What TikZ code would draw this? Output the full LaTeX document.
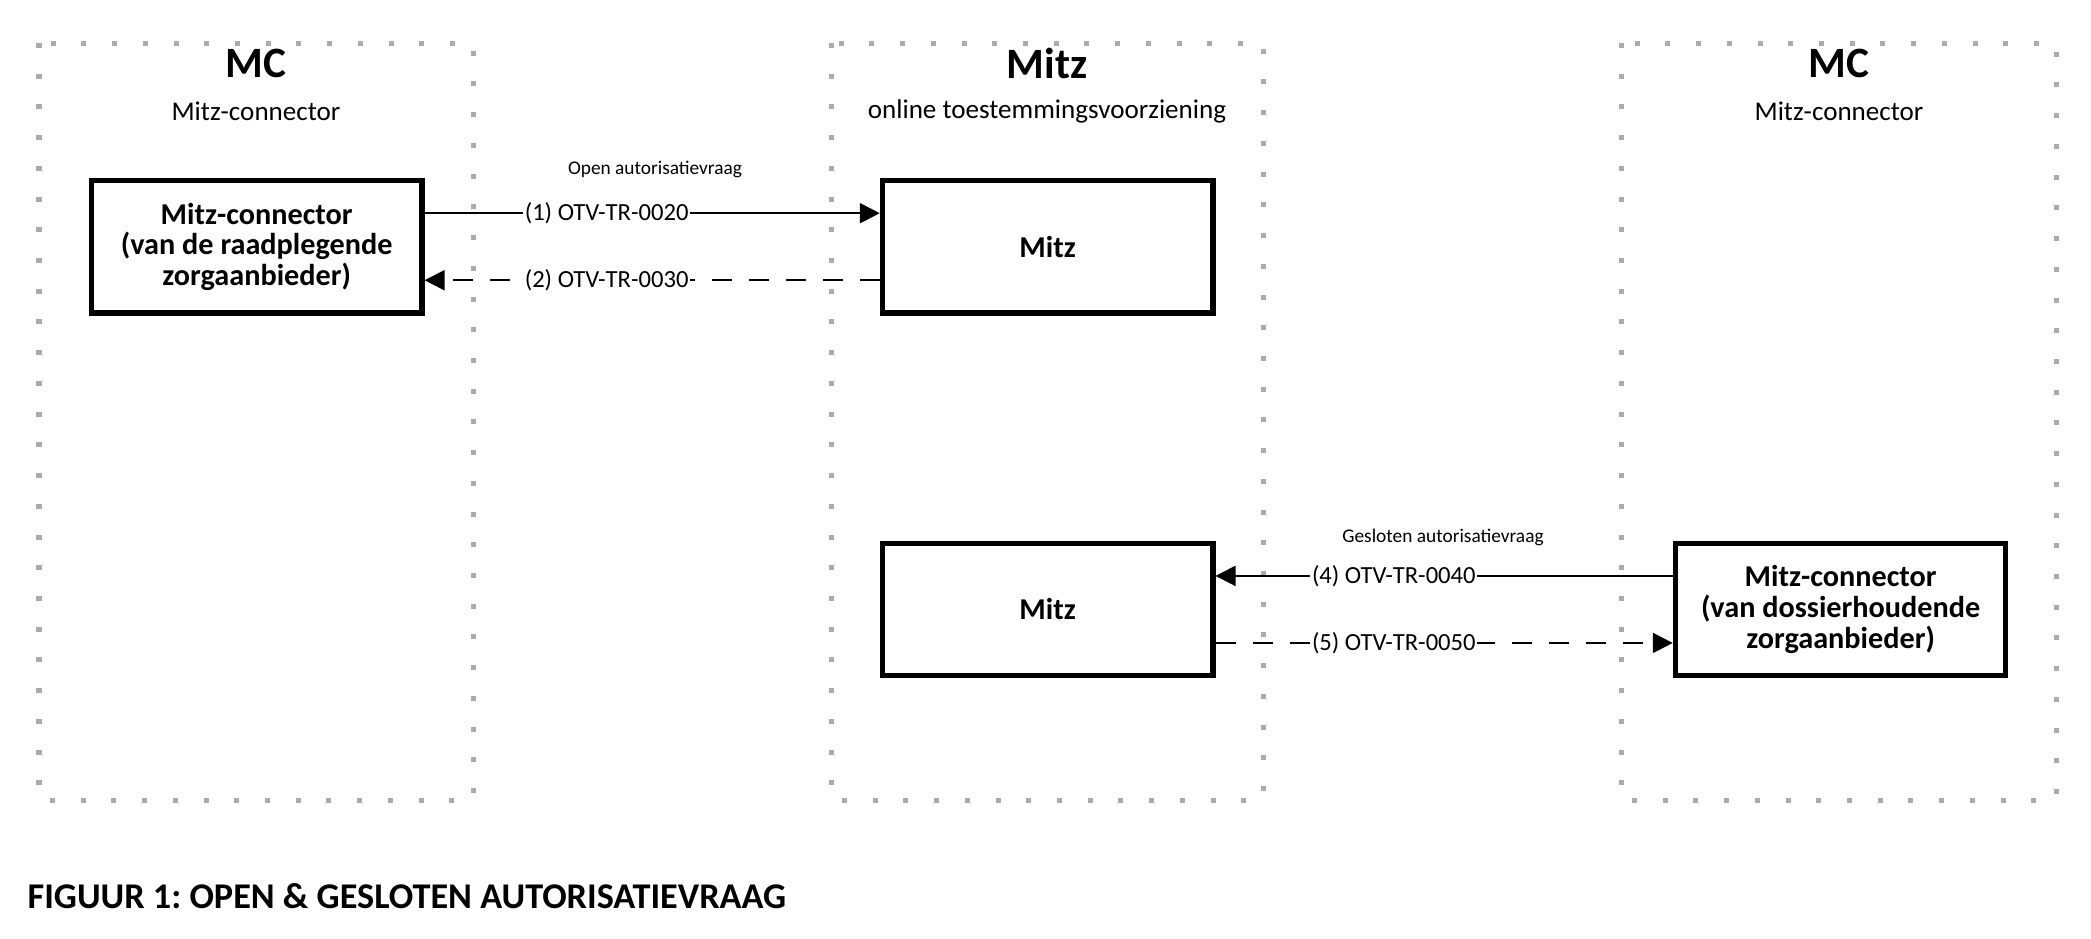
\documentclass[tikz,border=0pt]{standalone}
\usepackage{fontspec}
\setmainfont{Carlito}
\usetikzlibrary{arrows.meta, positioning}

\begin{document}
\begin{tikzpicture}[x=0.01cm, y=-0.01cm, >={Triangle[length=0.2cm, width=0.2cm]}, node distance=1cm,
    frame/.style={draw=black!33, line width=0.05cm, dash pattern=on 0.05cm off 0.257cm},
    comp/.style={draw, line width=0.055cm, minimum width=3.3cm, minimum height=1.32cm, align=center,
        font=\fontsize{8.6}{8.7}\selectfont\bfseries},
    head/.style={font=\fontsize{12.3}{12}\selectfont\bfseries},
    sub/.style={font=\fontsize{7.7}{8}\selectfont},
    msg/.style={fill=white, inner sep=0.5pt, font=\fontsize{7}{8}\selectfont},
    note/.style={font=\fontsize{5.5}{6}\selectfont},
    link/.style={line width=0.02cm},
    back/.style={line width=0.02cm, dash pattern=on 0.2cm off 0.17cm}]

    \useasboundingbox (0,0) rectangle (2091,938);

    % swimlanes
    \draw[frame] (39,43) rectangle (473,800);
    \draw[frame] (831,43) rectangle (1263,800);
    \draw[frame] (1621,43) rectangle (2056,800);

    \node[head] (mcleft) at (256,63) {MC};
    \node[sub] (mcleftsub) at (256,111) {Mitz-connector};
    \node[head] (mitz) at (1047,63) {Mitz};
    \node[sub] (mitzsub) at (1047,111) {online toestemmingsvoorziening};
    \node[head] (mcright) at (1839,63) {MC};
    \node[sub] (mcrightsub) at (1839,111) {Mitz-connector};

    % components
    \node[comp] (raadpl) at (256.7,246.7) {Mitz-connector\\(van de raadplegende\\zorgaanbieder)};
    \node[comp, right=4.55cm of raadpl] (mitztop) {Mitz};
    \node[comp, below=2.25cm of mitztop] (mitzbot) {Mitz};
    \node[comp, right=4.57cm of mitzbot] (dossier) {Mitz-connector\\(van dossierhoudende\\zorgaanbieder)};

    % open autorisatievraag
    \draw[link, ->] ([yshift=0.335cm]raadpl.east) -- node[msg, pos=0.4] {(1) OTV-TR-0020} ([yshift=0.335cm]mitztop.west);
    \draw[back, ->] ([yshift=-0.335cm]mitztop.west) -- node[msg, pos=0.6] {(2) OTV-TR-0030} ([yshift=-0.335cm]raadpl.east);
    \node[note] (open) at (655,169) {Open autorisatievraag};

    % gesloten autorisatievraag
    \draw[link, ->] ([yshift=0.335cm]dossier.west) -- node[msg, pos=0.61] {(4) OTV-TR-0040} ([yshift=0.335cm]mitzbot.east);
    \draw[back, ->] ([yshift=-0.335cm]mitzbot.east) -- node[msg, pos=0.39] {(5) OTV-TR-0050} ([yshift=-0.335cm]dossier.west);
    \node[note] (gesloten) at (1443,537) {Gesloten autorisatievraag};

    \node[anchor=west, inner sep=0pt, font=\fontsize{10.3}{11}\selectfont\bfseries\frenchspacing] (caption) at (27,896) {FIGUUR 1: OPEN \& GESLOTEN AUTORISATIEVRAAG};
\end{tikzpicture}
\end{document}
